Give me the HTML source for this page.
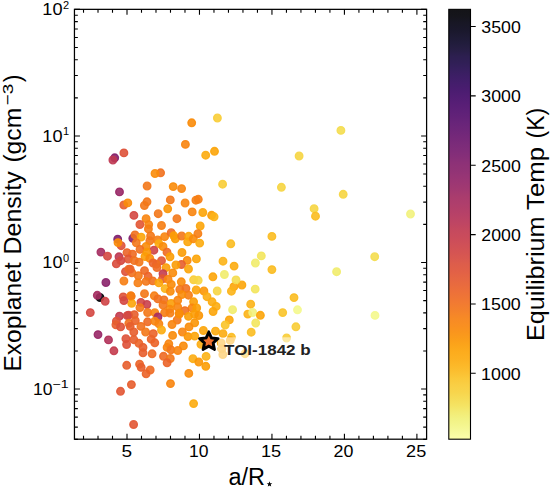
<!DOCTYPE html>
<html><head><meta charset="utf-8"><style>html,body{margin:0;padding:0;background:#fff;}body{width:550px;height:487px;overflow:hidden;position:relative;font-family:"Liberation Sans",sans-serif;}</style></head>
<body>
<svg width="550" height="487" viewBox="0 0 550 487" style="position:absolute;left:0;top:0">
<rect width="550" height="487" fill="#fff"/>
<defs><clipPath id="ax"><rect x="74.45" y="9.35" width="352.15000000000003" height="429.84999999999997"/></clipPath>
<linearGradient id="cb" x1="0" y1="0" x2="0" y2="1"><stop offset="0.0000" stop-color="#000004"/><stop offset="0.0156" stop-color="#010108"/><stop offset="0.0312" stop-color="#040312"/><stop offset="0.0469" stop-color="#060419"/><stop offset="0.0625" stop-color="#0a0722"/><stop offset="0.0781" stop-color="#0e092b"/><stop offset="0.0938" stop-color="#140b34"/><stop offset="0.1094" stop-color="#1b0c41"/><stop offset="0.1250" stop-color="#1f0c48"/><stop offset="0.1406" stop-color="#260c51"/><stop offset="0.1562" stop-color="#2d0b59"/><stop offset="0.1719" stop-color="#340a5f"/><stop offset="0.1875" stop-color="#3b0964"/><stop offset="0.2031" stop-color="#420a68"/><stop offset="0.2188" stop-color="#490b6a"/><stop offset="0.2344" stop-color="#4f0d6c"/><stop offset="0.2500" stop-color="#550f6d"/><stop offset="0.2656" stop-color="#5c126e"/><stop offset="0.2812" stop-color="#62146e"/><stop offset="0.2969" stop-color="#69166e"/><stop offset="0.3125" stop-color="#6f196e"/><stop offset="0.3281" stop-color="#751b6e"/><stop offset="0.3438" stop-color="#7c1d6d"/><stop offset="0.3594" stop-color="#84206b"/><stop offset="0.3750" stop-color="#88226a"/><stop offset="0.3906" stop-color="#8f2469"/><stop offset="0.4062" stop-color="#952667"/><stop offset="0.4219" stop-color="#9b2964"/><stop offset="0.4375" stop-color="#a32c61"/><stop offset="0.4531" stop-color="#a82e5f"/><stop offset="0.4688" stop-color="#ae305c"/><stop offset="0.4844" stop-color="#b43359"/><stop offset="0.5000" stop-color="#ba3655"/><stop offset="0.5156" stop-color="#c13a50"/><stop offset="0.5312" stop-color="#c63d4d"/><stop offset="0.5469" stop-color="#cb4149"/><stop offset="0.5625" stop-color="#d04545"/><stop offset="0.5781" stop-color="#d54a41"/><stop offset="0.5938" stop-color="#db503b"/><stop offset="0.6094" stop-color="#df5337"/><stop offset="0.6250" stop-color="#e35933"/><stop offset="0.6406" stop-color="#e75e2e"/><stop offset="0.6562" stop-color="#eb6429"/><stop offset="0.6719" stop-color="#ee6a24"/><stop offset="0.6875" stop-color="#f1711f"/><stop offset="0.7031" stop-color="#f37819"/><stop offset="0.7188" stop-color="#f68013"/><stop offset="0.7344" stop-color="#f8850f"/><stop offset="0.7500" stop-color="#f98c0a"/><stop offset="0.7656" stop-color="#fa9407"/><stop offset="0.7812" stop-color="#fb9d07"/><stop offset="0.7969" stop-color="#fca50a"/><stop offset="0.8125" stop-color="#fcaa0f"/><stop offset="0.8281" stop-color="#fcb216"/><stop offset="0.8438" stop-color="#fbba1f"/><stop offset="0.8594" stop-color="#fac42a"/><stop offset="0.8750" stop-color="#f9cb35"/><stop offset="0.8906" stop-color="#f7d13d"/><stop offset="0.9062" stop-color="#f5d949"/><stop offset="0.9219" stop-color="#f4e156"/><stop offset="0.9375" stop-color="#f2ea69"/><stop offset="0.9531" stop-color="#f1f179"/><stop offset="0.9688" stop-color="#f3f586"/><stop offset="0.9844" stop-color="#f6fa96"/><stop offset="1.0000" stop-color="#fcffa4"/></linearGradient>
<clipPath id="lbl"><rect x="218" y="337.3" width="96" height="22"/></clipPath>
</defs>
<g clip-path="url(#ax)" fill-opacity="0.9" stroke-opacity="0.9" stroke-width="1.3"><circle cx="191.7" cy="122.8" r="3.8" fill="#f98c0a" stroke="#f98c0a"/><circle cx="217.4" cy="118.0" r="3.8" fill="#f8cd37" stroke="#f8cd37"/><circle cx="185.4" cy="144.4" r="3.8" fill="#f8850f" stroke="#f8850f"/><circle cx="205.7" cy="155.2" r="3.8" fill="#fcac11" stroke="#fcac11"/><circle cx="214.5" cy="151.3" r="3.8" fill="#fca50a" stroke="#fca50a"/><circle cx="340.9" cy="130.4" r="3.8" fill="#f4dd4f" stroke="#f4dd4f"/><circle cx="299.1" cy="156.0" r="3.8" fill="#f6d543" stroke="#f6d543"/><circle cx="123.9" cy="152.9" r="3.8" fill="#de5238" stroke="#de5238"/><circle cx="114.7" cy="157.8" r="3.8" fill="#84206b" stroke="#84206b"/><circle cx="112.9" cy="160.0" r="3.8" fill="#bf3952" stroke="#bf3952"/><circle cx="160.6" cy="172.8" r="3.8" fill="#f1711f" stroke="#f1711f"/><circle cx="155.0" cy="173.5" r="3.8" fill="#f98c0a" stroke="#f98c0a"/><circle cx="147.1" cy="186.0" r="3.8" fill="#f37819" stroke="#f37819"/><circle cx="173.2" cy="186.6" r="3.8" fill="#f98c0a" stroke="#f98c0a"/><circle cx="181.6" cy="188.6" r="3.8" fill="#f8850f" stroke="#f8850f"/><circle cx="222.6" cy="184.2" r="3.8" fill="#f8cd37" stroke="#f8cd37"/><circle cx="281.4" cy="187.3" r="3.8" fill="#f6d543" stroke="#f6d543"/><circle cx="343.2" cy="194.3" r="3.8" fill="#f6d543" stroke="#f6d543"/><circle cx="314.1" cy="208.7" r="3.8" fill="#f6d543" stroke="#f6d543"/><circle cx="315.5" cy="216.2" r="3.8" fill="#fbbc21" stroke="#fbbc21"/><circle cx="410.5" cy="214.0" r="3.8" fill="#f2f27d" stroke="#f2f27d"/><circle cx="119.5" cy="191.9" r="3.8" fill="#982766" stroke="#982766"/><circle cx="123.8" cy="205.0" r="3.8" fill="#e75e2e" stroke="#e75e2e"/><circle cx="127.8" cy="202.9" r="3.8" fill="#f98c0a" stroke="#f98c0a"/><circle cx="133.9" cy="215.4" r="3.8" fill="#d44842" stroke="#d44842"/><circle cx="147.0" cy="201.8" r="3.8" fill="#f37819" stroke="#f37819"/><circle cx="144.4" cy="205.5" r="3.8" fill="#f37819" stroke="#f37819"/><circle cx="170.3" cy="199.9" r="3.8" fill="#f37819" stroke="#f37819"/><circle cx="185.1" cy="203.0" r="3.8" fill="#f8850f" stroke="#f8850f"/><circle cx="167.7" cy="208.8" r="3.8" fill="#fb9606" stroke="#fb9606"/><circle cx="195.9" cy="200.2" r="3.8" fill="#f67e14" stroke="#f67e14"/><circle cx="198.3" cy="199.3" r="3.8" fill="#f67e14" stroke="#f67e14"/><circle cx="192.2" cy="211.9" r="3.8" fill="#f8850f" stroke="#f8850f"/><circle cx="202.8" cy="212.5" r="3.8" fill="#fca50a" stroke="#fca50a"/><circle cx="211.6" cy="215.3" r="3.8" fill="#fb9d07" stroke="#fb9d07"/><circle cx="214.1" cy="216.8" r="3.8" fill="#fcb418" stroke="#fcb418"/><circle cx="158.2" cy="213.7" r="3.8" fill="#f37819" stroke="#f37819"/><circle cx="146.1" cy="218.7" r="3.8" fill="#f8850f" stroke="#f8850f"/><circle cx="176.9" cy="218.7" r="3.8" fill="#f37819" stroke="#f37819"/><circle cx="139.9" cy="224.5" r="3.8" fill="#e25734" stroke="#e25734"/><circle cx="148.7" cy="224.6" r="3.8" fill="#f8850f" stroke="#f8850f"/><circle cx="148.4" cy="228.9" r="3.8" fill="#f67e14" stroke="#f67e14"/><circle cx="161.5" cy="225.5" r="3.8" fill="#f67e14" stroke="#f67e14"/><circle cx="200.2" cy="226.0" r="3.8" fill="#fca50a" stroke="#fca50a"/><circle cx="117.7" cy="239.2" r="3.8" fill="#7d1e6d" stroke="#7d1e6d"/><circle cx="121.2" cy="245.7" r="3.8" fill="#de5238" stroke="#de5238"/><circle cx="118.0" cy="242.6" r="3.8" fill="#f98c0a" stroke="#f98c0a"/><circle cx="132.8" cy="238.3" r="3.8" fill="#84206b" stroke="#84206b"/><circle cx="135.0" cy="234.9" r="3.8" fill="#f1711f" stroke="#f1711f"/><circle cx="141.2" cy="237.1" r="3.8" fill="#fca50a" stroke="#fca50a"/><circle cx="136.3" cy="242.8" r="3.8" fill="#f37819" stroke="#f37819"/><circle cx="150.6" cy="235.9" r="3.8" fill="#f37819" stroke="#f37819"/><circle cx="149.8" cy="240.8" r="3.8" fill="#f37819" stroke="#f37819"/><circle cx="157.6" cy="240.0" r="3.8" fill="#f67e14" stroke="#f67e14"/><circle cx="158.9" cy="243.7" r="3.8" fill="#fcac11" stroke="#fcac11"/><circle cx="164.6" cy="236.7" r="3.8" fill="#f8850f" stroke="#f8850f"/><circle cx="163.0" cy="246.5" r="3.8" fill="#f98c0a" stroke="#f98c0a"/><circle cx="146.1" cy="246.5" r="3.8" fill="#f98c0a" stroke="#f98c0a"/><circle cx="140.0" cy="249.4" r="3.8" fill="#f1711f" stroke="#f1711f"/><circle cx="153.9" cy="250.2" r="3.8" fill="#cf4446" stroke="#cf4446"/><circle cx="146.9" cy="252.3" r="3.8" fill="#fb9606" stroke="#fb9606"/><circle cx="127.0" cy="252.6" r="3.8" fill="#eb6429" stroke="#eb6429"/><circle cx="132.5" cy="254.1" r="3.8" fill="#ee6a24" stroke="#ee6a24"/><circle cx="128.3" cy="259.0" r="3.8" fill="#e25734" stroke="#e25734"/><circle cx="145.0" cy="256.6" r="3.8" fill="#fb9d07" stroke="#fb9d07"/><circle cx="149.8" cy="258.4" r="3.8" fill="#f98c0a" stroke="#f98c0a"/><circle cx="139.1" cy="262.1" r="3.8" fill="#f37819" stroke="#f37819"/><circle cx="134.2" cy="260.5" r="3.8" fill="#f1711f" stroke="#f1711f"/><circle cx="161.5" cy="260.7" r="3.8" fill="#e25734" stroke="#e25734"/><circle cx="156.4" cy="264.2" r="3.8" fill="#f1711f" stroke="#f1711f"/><circle cx="153.1" cy="263.0" r="3.8" fill="#eb6429" stroke="#eb6429"/><circle cx="167.0" cy="252.2" r="3.8" fill="#ee6a24" stroke="#ee6a24"/><circle cx="100.9" cy="252.1" r="3.8" fill="#a52c60" stroke="#a52c60"/><circle cx="107.5" cy="256.2" r="3.8" fill="#d44842" stroke="#d44842"/><circle cx="119.0" cy="256.8" r="3.8" fill="#bf3952" stroke="#bf3952"/><circle cx="120.8" cy="260.7" r="3.8" fill="#d44842" stroke="#d44842"/><circle cx="116.3" cy="263.8" r="3.8" fill="#d94d3d" stroke="#d94d3d"/><circle cx="125.5" cy="271.6" r="3.8" fill="#de5238" stroke="#de5238"/><circle cx="128.8" cy="269.1" r="3.8" fill="#ee6a24" stroke="#ee6a24"/><circle cx="131.9" cy="272.8" r="3.8" fill="#f1711f" stroke="#f1711f"/><circle cx="105.9" cy="282.5" r="3.8" fill="#8a226a" stroke="#8a226a"/><circle cx="123.9" cy="281.0" r="3.8" fill="#f67e14" stroke="#f67e14"/><circle cx="171.2" cy="232.7" r="3.8" fill="#ee6a24" stroke="#ee6a24"/><circle cx="173.8" cy="235.8" r="3.8" fill="#fb9d07" stroke="#fb9d07"/><circle cx="175.3" cy="238.8" r="3.8" fill="#fb9d07" stroke="#fb9d07"/><circle cx="181.7" cy="236.0" r="3.8" fill="#f37819" stroke="#f37819"/><circle cx="188.7" cy="236.3" r="3.8" fill="#fca50a" stroke="#fca50a"/><circle cx="187.7" cy="241.9" r="3.8" fill="#fca50a" stroke="#fca50a"/><circle cx="193.3" cy="238.8" r="3.8" fill="#f98c0a" stroke="#f98c0a"/><circle cx="197.9" cy="233.7" r="3.8" fill="#f67e14" stroke="#f67e14"/><circle cx="199.7" cy="243.1" r="3.8" fill="#fcac11" stroke="#fcac11"/><circle cx="182.0" cy="252.5" r="3.8" fill="#fb9d07" stroke="#fb9d07"/><circle cx="170.0" cy="256.8" r="3.8" fill="#fb9d07" stroke="#fb9d07"/><circle cx="187.2" cy="260.4" r="3.8" fill="#f98c0a" stroke="#f98c0a"/><circle cx="196.4" cy="258.9" r="3.8" fill="#fca50a" stroke="#fca50a"/><circle cx="181.5" cy="264.5" r="3.8" fill="#e75e2e" stroke="#e75e2e"/><circle cx="175.9" cy="265.0" r="3.8" fill="#fb9d07" stroke="#fb9d07"/><circle cx="166.1" cy="267.6" r="3.8" fill="#fb9d07" stroke="#fb9d07"/><circle cx="188.5" cy="269.0" r="3.8" fill="#fca50a" stroke="#fca50a"/><circle cx="172.8" cy="272.9" r="3.8" fill="#f98c0a" stroke="#f98c0a"/><circle cx="163.0" cy="273.7" r="3.8" fill="#c43c4e" stroke="#c43c4e"/><circle cx="230.8" cy="243.8" r="3.8" fill="#fbbc21" stroke="#fbbc21"/><circle cx="223.0" cy="261.2" r="3.8" fill="#fcb418" stroke="#fcb418"/><circle cx="234.1" cy="266.1" r="3.8" fill="#fcac11" stroke="#fcac11"/><circle cx="212.9" cy="276.8" r="3.8" fill="#fca50a" stroke="#fca50a"/><circle cx="224.4" cy="274.5" r="3.8" fill="#f1ec6d" stroke="#f1ec6d"/><circle cx="261.3" cy="255.9" r="3.8" fill="#f3e55d" stroke="#f3e55d"/><circle cx="255.4" cy="263.0" r="3.8" fill="#f1ec6d" stroke="#f1ec6d"/><circle cx="271.9" cy="236.4" r="3.8" fill="#fbbc21" stroke="#fbbc21"/><circle cx="271.9" cy="269.6" r="3.8" fill="#fbbc21" stroke="#fbbc21"/><circle cx="374.7" cy="256.7" r="3.8" fill="#f4dd4f" stroke="#f4dd4f"/><circle cx="336.6" cy="271.7" r="3.8" fill="#f1ec6d" stroke="#f1ec6d"/><circle cx="130.2" cy="269.1" r="3.8" fill="#eb6429" stroke="#eb6429"/><circle cx="138.4" cy="275.8" r="3.8" fill="#f37819" stroke="#f37819"/><circle cx="144.5" cy="270.6" r="3.8" fill="#ee6a24" stroke="#ee6a24"/><circle cx="148.1" cy="276.3" r="3.8" fill="#eb6429" stroke="#eb6429"/><circle cx="146.1" cy="281.4" r="3.8" fill="#f37819" stroke="#f37819"/><circle cx="152.7" cy="280.9" r="3.8" fill="#f1711f" stroke="#f1711f"/><circle cx="137.9" cy="282.9" r="3.8" fill="#f67e14" stroke="#f67e14"/><circle cx="156.9" cy="267.5" r="3.8" fill="#ee6a24" stroke="#ee6a24"/><circle cx="162.5" cy="278.8" r="3.8" fill="#e25734" stroke="#e25734"/><circle cx="168.1" cy="279.3" r="3.8" fill="#f8850f" stroke="#f8850f"/><circle cx="158.9" cy="282.9" r="3.8" fill="#fca50a" stroke="#fca50a"/><circle cx="165.1" cy="288.6" r="3.8" fill="#fcb418" stroke="#fcb418"/><circle cx="171.3" cy="284.4" r="3.8" fill="#f98c0a" stroke="#f98c0a"/><circle cx="170.3" cy="291.3" r="3.8" fill="#f98c0a" stroke="#f98c0a"/><circle cx="144.5" cy="293.7" r="3.8" fill="#f37819" stroke="#f37819"/><circle cx="131.2" cy="296.3" r="3.8" fill="#f37819" stroke="#f37819"/><circle cx="123.2" cy="296.9" r="3.8" fill="#de5238" stroke="#de5238"/><circle cx="131.7" cy="303.3" r="3.8" fill="#fca50a" stroke="#fca50a"/><circle cx="123.9" cy="300.6" r="3.8" fill="#d44842" stroke="#d44842"/><circle cx="130.8" cy="295.7" r="3.8" fill="#f67e14" stroke="#f67e14"/><circle cx="140.9" cy="302.4" r="3.8" fill="#d44842" stroke="#d44842"/><circle cx="146.9" cy="304.5" r="3.8" fill="#ca404a" stroke="#ca404a"/><circle cx="139.9" cy="307.6" r="3.8" fill="#f37819" stroke="#f37819"/><circle cx="154.3" cy="295.8" r="3.8" fill="#f67e14" stroke="#f67e14"/><circle cx="157.9" cy="298.9" r="3.8" fill="#f1711f" stroke="#f1711f"/><circle cx="164.0" cy="299.9" r="3.8" fill="#f1711f" stroke="#f1711f"/><circle cx="171.2" cy="303.5" r="3.8" fill="#fb9d07" stroke="#fb9d07"/><circle cx="169.7" cy="309.1" r="3.8" fill="#f98c0a" stroke="#f98c0a"/><circle cx="163.0" cy="305.0" r="3.8" fill="#f37819" stroke="#f37819"/><circle cx="147.6" cy="312.5" r="3.8" fill="#f37819" stroke="#f37819"/><circle cx="154.8" cy="312.7" r="3.8" fill="#f8850f" stroke="#f8850f"/><circle cx="164.6" cy="312.7" r="3.8" fill="#f67e14" stroke="#f67e14"/><circle cx="157.9" cy="317.0" r="3.8" fill="#a52c60" stroke="#a52c60"/><circle cx="128.6" cy="315.2" r="3.8" fill="#d44842" stroke="#d44842"/><circle cx="134.3" cy="314.6" r="3.8" fill="#e75e2e" stroke="#e75e2e"/><circle cx="100.0" cy="297.5" r="3.8" fill="#010005" stroke="#010005"/><circle cx="97.3" cy="295.3" r="3.8" fill="#a52c60" stroke="#a52c60"/><circle cx="105.2" cy="301.3" r="3.8" fill="#cf4446" stroke="#cf4446"/><circle cx="90.3" cy="312.6" r="3.8" fill="#d44842" stroke="#d44842"/><circle cx="193.6" cy="279.8" r="3.8" fill="#f8cd37" stroke="#f8cd37"/><circle cx="198.2" cy="280.3" r="3.8" fill="#f6d543" stroke="#f6d543"/><circle cx="181.3" cy="281.8" r="3.8" fill="#f98c0a" stroke="#f98c0a"/><circle cx="179.8" cy="289.5" r="3.8" fill="#f37819" stroke="#f37819"/><circle cx="185.9" cy="288.5" r="3.8" fill="#f1711f" stroke="#f1711f"/><circle cx="188.5" cy="295.2" r="3.8" fill="#f67e14" stroke="#f67e14"/><circle cx="181.8" cy="294.6" r="3.8" fill="#f98c0a" stroke="#f98c0a"/><circle cx="196.2" cy="290.0" r="3.8" fill="#fca50a" stroke="#fca50a"/><circle cx="203.9" cy="291.0" r="3.8" fill="#fb9606" stroke="#fb9606"/><circle cx="217.2" cy="291.0" r="3.8" fill="#f6d543" stroke="#f6d543"/><circle cx="207.0" cy="296.7" r="3.8" fill="#fcac11" stroke="#fcac11"/><circle cx="212.1" cy="301.8" r="3.8" fill="#fcac11" stroke="#fcac11"/><circle cx="216.2" cy="306.4" r="3.8" fill="#fcac11" stroke="#fcac11"/><circle cx="213.1" cy="311.5" r="3.8" fill="#fca50a" stroke="#fca50a"/><circle cx="177.7" cy="300.3" r="3.8" fill="#f8850f" stroke="#f8850f"/><circle cx="193.6" cy="301.8" r="3.8" fill="#fb9d07" stroke="#fb9d07"/><circle cx="177.7" cy="307.0" r="3.8" fill="#f8850f" stroke="#f8850f"/><circle cx="192.1" cy="308.0" r="3.8" fill="#f8850f" stroke="#f8850f"/><circle cx="196.7" cy="308.0" r="3.8" fill="#fb9d07" stroke="#fb9d07"/><circle cx="184.9" cy="310.6" r="3.8" fill="#f1711f" stroke="#f1711f"/><circle cx="179.2" cy="313.3" r="3.8" fill="#f98c0a" stroke="#f98c0a"/><circle cx="170.0" cy="313.0" r="3.8" fill="#f67e14" stroke="#f67e14"/><circle cx="188.5" cy="316.4" r="3.8" fill="#fb9d07" stroke="#fb9d07"/><circle cx="194.5" cy="314.2" r="3.8" fill="#fb9d07" stroke="#fb9d07"/><circle cx="198.8" cy="315.5" r="3.8" fill="#fb9606" stroke="#fb9606"/><circle cx="177.2" cy="320.0" r="3.8" fill="#f37819" stroke="#f37819"/><circle cx="241.9" cy="285.0" r="3.8" fill="#fca50a" stroke="#fca50a"/><circle cx="233.9" cy="286.6" r="3.8" fill="#fca50a" stroke="#fca50a"/><circle cx="236.0" cy="279.9" r="3.8" fill="#f4dd4f" stroke="#f4dd4f"/><circle cx="231.4" cy="291.2" r="3.8" fill="#fcb418" stroke="#fcb418"/><circle cx="255.2" cy="289.1" r="3.8" fill="#f3e55d" stroke="#f3e55d"/><circle cx="250.7" cy="304.2" r="3.8" fill="#fcb418" stroke="#fcb418"/><circle cx="232.6" cy="309.7" r="3.8" fill="#f1ec6d" stroke="#f1ec6d"/><circle cx="247.8" cy="314.1" r="3.8" fill="#fcb418" stroke="#fcb418"/><circle cx="252.7" cy="312.5" r="3.8" fill="#f2f27d" stroke="#f2f27d"/><circle cx="260.4" cy="315.3" r="3.8" fill="#fca50a" stroke="#fca50a"/><circle cx="229.3" cy="319.9" r="3.8" fill="#fca50a" stroke="#fca50a"/><circle cx="225.2" cy="325.0" r="3.8" fill="#fac42a" stroke="#fac42a"/><circle cx="255.7" cy="323.0" r="3.8" fill="#f3e55d" stroke="#f3e55d"/><circle cx="294.0" cy="297.6" r="3.8" fill="#fbbc21" stroke="#fbbc21"/><circle cx="297.5" cy="309.8" r="3.8" fill="#f4f88e" stroke="#f4f88e"/><circle cx="282.7" cy="312.6" r="3.8" fill="#fac42a" stroke="#fac42a"/><circle cx="295.9" cy="326.8" r="3.8" fill="#f8cd37" stroke="#f8cd37"/><circle cx="286.6" cy="338.0" r="3.8" fill="#f8cd37" stroke="#f8cd37"/><circle cx="375.0" cy="315.4" r="3.8" fill="#f4f88e" stroke="#f4f88e"/><circle cx="119.5" cy="316.1" r="3.8" fill="#c43c4e" stroke="#c43c4e"/><circle cx="127.2" cy="315.6" r="3.8" fill="#d44842" stroke="#d44842"/><circle cx="116.4" cy="321.2" r="3.8" fill="#de5238" stroke="#de5238"/><circle cx="115.9" cy="324.8" r="3.8" fill="#e75e2e" stroke="#e75e2e"/><circle cx="120.6" cy="326.9" r="3.8" fill="#de5238" stroke="#de5238"/><circle cx="128.8" cy="323.3" r="3.8" fill="#f1711f" stroke="#f1711f"/><circle cx="98.0" cy="334.6" r="3.8" fill="#982766" stroke="#982766"/><circle cx="108.5" cy="339.9" r="3.8" fill="#b1325a" stroke="#b1325a"/><circle cx="113.9" cy="350.8" r="3.8" fill="#c43c4e" stroke="#c43c4e"/><circle cx="125.9" cy="338.7" r="3.8" fill="#de5238" stroke="#de5238"/><circle cx="126.6" cy="344.5" r="3.8" fill="#de5238" stroke="#de5238"/><circle cx="135.3" cy="320.7" r="3.8" fill="#eb6429" stroke="#eb6429"/><circle cx="147.6" cy="321.8" r="3.8" fill="#ee6a24" stroke="#ee6a24"/><circle cx="154.8" cy="321.2" r="3.8" fill="#f8850f" stroke="#f8850f"/><circle cx="158.9" cy="323.8" r="3.8" fill="#f8850f" stroke="#f8850f"/><circle cx="161.5" cy="330.0" r="3.8" fill="#fcac11" stroke="#fcac11"/><circle cx="172.0" cy="324.5" r="3.8" fill="#f8850f" stroke="#f8850f"/><circle cx="140.9" cy="326.4" r="3.8" fill="#f1711f" stroke="#f1711f"/><circle cx="130.2" cy="326.4" r="3.8" fill="#e75e2e" stroke="#e75e2e"/><circle cx="145.6" cy="332.0" r="3.8" fill="#f37819" stroke="#f37819"/><circle cx="133.8" cy="332.0" r="3.8" fill="#e75e2e" stroke="#e75e2e"/><circle cx="153.3" cy="333.6" r="3.8" fill="#eb6429" stroke="#eb6429"/><circle cx="172.6" cy="335.4" r="3.8" fill="#f98c0a" stroke="#f98c0a"/><circle cx="133.8" cy="339.7" r="3.8" fill="#e75e2e" stroke="#e75e2e"/><circle cx="151.2" cy="339.2" r="3.8" fill="#eb6429" stroke="#eb6429"/><circle cx="154.8" cy="342.8" r="3.8" fill="#eb6429" stroke="#eb6429"/><circle cx="138.9" cy="343.3" r="3.8" fill="#eb6429" stroke="#eb6429"/><circle cx="143.0" cy="347.4" r="3.8" fill="#e75e2e" stroke="#e75e2e"/><circle cx="168.8" cy="343.8" r="3.8" fill="#f8850f" stroke="#f8850f"/><circle cx="167.1" cy="347.4" r="3.8" fill="#f8850f" stroke="#f8850f"/><circle cx="170.9" cy="349.8" r="3.8" fill="#f37819" stroke="#f37819"/><circle cx="143.0" cy="352.8" r="3.8" fill="#e75e2e" stroke="#e75e2e"/><circle cx="152.1" cy="353.8" r="3.8" fill="#ee6a24" stroke="#ee6a24"/><circle cx="163.5" cy="356.3" r="3.8" fill="#ee6a24" stroke="#ee6a24"/><circle cx="170.3" cy="358.5" r="3.8" fill="#f37819" stroke="#f37819"/><circle cx="179.3" cy="314.1" r="3.8" fill="#f98c0a" stroke="#f98c0a"/><circle cx="194.7" cy="322.8" r="3.8" fill="#fb9606" stroke="#fb9606"/><circle cx="189.0" cy="326.9" r="3.8" fill="#f98c0a" stroke="#f98c0a"/><circle cx="203.4" cy="330.5" r="3.8" fill="#fca50a" stroke="#fca50a"/><circle cx="215.5" cy="331.1" r="3.8" fill="#fcac11" stroke="#fcac11"/><circle cx="182.4" cy="332.0" r="3.8" fill="#f8850f" stroke="#f8850f"/><circle cx="188.0" cy="336.6" r="3.8" fill="#fb9606" stroke="#fb9606"/><circle cx="194.7" cy="336.1" r="3.8" fill="#fca50a" stroke="#fca50a"/><circle cx="200.9" cy="344.3" r="3.8" fill="#fcac11" stroke="#fcac11"/><circle cx="183.4" cy="345.9" r="3.8" fill="#f98c0a" stroke="#f98c0a"/><circle cx="177.8" cy="350.5" r="3.8" fill="#f8850f" stroke="#f8850f"/><circle cx="192.9" cy="358.7" r="3.8" fill="#fcac11" stroke="#fcac11"/><circle cx="206.1" cy="356.4" r="3.8" fill="#fcb418" stroke="#fcb418"/><circle cx="198.8" cy="362.0" r="3.8" fill="#fb9606" stroke="#fb9606"/><circle cx="223.0" cy="333.7" r="3.8" fill="#fcac11" stroke="#fcac11"/><circle cx="231.5" cy="337.3" r="3.8" fill="#fbbc21" stroke="#fbbc21"/><circle cx="251.2" cy="332.2" r="3.8" fill="#fbbc21" stroke="#fbbc21"/><circle cx="221.2" cy="343.0" r="3.8" fill="#fcac11" stroke="#fcac11"/><circle cx="221.8" cy="348.8" r="3.8" fill="#fcac11" stroke="#fcac11"/><circle cx="222.8" cy="354.5" r="3.8" fill="#fcac11" stroke="#fcac11"/><circle cx="230.2" cy="340.4" r="3.8" fill="#fcac11" stroke="#fcac11"/><circle cx="245.0" cy="353.7" r="3.8" fill="#fbbc21" stroke="#fbbc21"/><circle cx="205.8" cy="366.3" r="3.8" fill="#fb9d07" stroke="#fb9d07"/><circle cx="126.7" cy="365.3" r="3.8" fill="#e75e2e" stroke="#e75e2e"/><circle cx="139.6" cy="364.2" r="3.8" fill="#eb6429" stroke="#eb6429"/><circle cx="141.2" cy="367.4" r="3.8" fill="#e75e2e" stroke="#e75e2e"/><circle cx="150.2" cy="370.0" r="3.8" fill="#ee6a24" stroke="#ee6a24"/><circle cx="146.1" cy="373.8" r="3.8" fill="#eb6429" stroke="#eb6429"/><circle cx="167.1" cy="362.8" r="3.8" fill="#eb6429" stroke="#eb6429"/><circle cx="170.5" cy="383.6" r="3.8" fill="#f8850f" stroke="#f8850f"/><circle cx="131.4" cy="384.6" r="3.8" fill="#e75e2e" stroke="#e75e2e"/><circle cx="120.5" cy="391.3" r="3.8" fill="#e25734" stroke="#e25734"/><circle cx="188.8" cy="373.4" r="3.8" fill="#f98c0a" stroke="#f98c0a"/><circle cx="193.6" cy="403.6" r="3.8" fill="#fcac11" stroke="#fcac11"/><circle cx="133.6" cy="424.5" r="3.8" fill="#e25734" stroke="#e25734"/></g>
<rect x="218" y="337.3" width="96" height="22" fill="#fff" fill-opacity="0.5"/>
<polygon points="208.80,331.70 211.59,337.76 218.22,338.54 213.32,343.07 214.62,349.61 208.80,346.35 202.98,349.61 204.28,343.07 199.38,338.54 206.01,337.76" fill="#000" stroke="#000" stroke-width="2.6" stroke-linejoin="round"/>
<polygon points="208.80,335.80 210.56,339.17 214.32,339.81 211.65,342.53 212.21,346.29 208.80,344.60 205.39,346.29 205.95,342.53 203.28,339.81 207.04,339.17" fill="#ef702d"/>
<text x="224.08" y="354.50" font-family="Liberation Sans" font-size="14" textLength="86.57" lengthAdjust="spacingAndGlyphs" font-weight="bold" fill="#222">TOI-1842 b</text>
<path d="M83.52,439.2v-3.4M83.52,9.35v3.4M98.01,439.2v-3.4M98.01,9.35v3.4M112.50,439.2v-3.4M112.50,9.35v3.4M127.00,439.2v-5.5M127.00,9.35v5.5M141.50,439.2v-3.4M141.50,9.35v3.4M155.99,439.2v-3.4M155.99,9.35v3.4M170.49,439.2v-3.4M170.49,9.35v3.4M184.98,439.2v-3.4M184.98,9.35v3.4M199.47,439.2v-5.5M199.47,9.35v5.5M213.97,439.2v-3.4M213.97,9.35v3.4M228.46,439.2v-3.4M228.46,9.35v3.4M242.96,439.2v-3.4M242.96,9.35v3.4M257.45,439.2v-3.4M257.45,9.35v3.4M271.95,439.2v-5.5M271.95,9.35v5.5M286.44,439.2v-3.4M286.44,9.35v3.4M300.94,439.2v-3.4M300.94,9.35v3.4M315.44,439.2v-3.4M315.44,9.35v3.4M329.93,439.2v-3.4M329.93,9.35v3.4M344.42,439.2v-5.5M344.42,9.35v5.5M358.92,439.2v-3.4M358.92,9.35v3.4M373.41,439.2v-3.4M373.41,9.35v3.4M387.91,439.2v-3.4M387.91,9.35v3.4M402.40,439.2v-3.4M402.40,9.35v3.4M416.90,439.2v-5.5M416.90,9.35v5.5M74.45,439.41h3.4M426.6,439.41h-3.4M74.45,427.15h3.4M426.6,427.15h-3.4M74.45,417.12h3.4M426.6,417.12h-3.4M74.45,408.65h3.4M426.6,408.65h-3.4M74.45,401.31h3.4M426.6,401.31h-3.4M74.45,394.84h3.4M426.6,394.84h-3.4M74.45,389.05h5.5M426.6,389.05h-5.5M74.45,350.95h3.4M426.6,350.95h-3.4M74.45,328.67h3.4M426.6,328.67h-3.4M74.45,312.86h3.4M426.6,312.86h-3.4M74.45,300.60h3.4M426.6,300.60h-3.4M74.45,290.57h3.4M426.6,290.57h-3.4M74.45,282.10h3.4M426.6,282.10h-3.4M74.45,274.76h3.4M426.6,274.76h-3.4M74.45,268.29h3.4M426.6,268.29h-3.4M74.45,262.50h5.5M426.6,262.50h-5.5M74.45,224.40h3.4M426.6,224.40h-3.4M74.45,202.12h3.4M426.6,202.12h-3.4M74.45,186.31h3.4M426.6,186.31h-3.4M74.45,174.05h3.4M426.6,174.05h-3.4M74.45,164.02h3.4M426.6,164.02h-3.4M74.45,155.55h3.4M426.6,155.55h-3.4M74.45,148.21h3.4M426.6,148.21h-3.4M74.45,141.74h3.4M426.6,141.74h-3.4M74.45,135.95h5.5M426.6,135.95h-5.5M74.45,97.85h3.4M426.6,97.85h-3.4M74.45,75.57h3.4M426.6,75.57h-3.4M74.45,59.76h3.4M426.6,59.76h-3.4M74.45,47.50h3.4M426.6,47.50h-3.4M74.45,37.47h3.4M426.6,37.47h-3.4M74.45,29.00h3.4M426.6,29.00h-3.4M74.45,21.66h3.4M426.6,21.66h-3.4M74.45,15.19h3.4M426.6,15.19h-3.4M74.45,9.40h5.5M426.6,9.40h-5.5" stroke="#000" stroke-width="1.1" fill="none"/>
<rect x="74.45" y="9.35" width="352.15" height="429.85" fill="none" stroke="#000" stroke-width="1.25"/>
<text x="121.60" y="457.00" font-family="Liberation Sans" font-size="15.6" textLength="10.62" lengthAdjust="spacingAndGlyphs">5</text>
<text x="188.98" y="457.00" font-family="Liberation Sans" font-size="15.6" textLength="19.50" lengthAdjust="spacingAndGlyphs">10</text>
<text x="260.93" y="457.00" font-family="Liberation Sans" font-size="15.6" textLength="20.28" lengthAdjust="spacingAndGlyphs">15</text>
<text x="333.56" y="457.00" font-family="Liberation Sans" font-size="15.6" textLength="19.83" lengthAdjust="spacingAndGlyphs">20</text>
<text x="406.14" y="457.00" font-family="Liberation Sans" font-size="15.6" textLength="20.17" lengthAdjust="spacingAndGlyphs">25</text>
<text x="42.34" y="15.10" font-family="Liberation Sans" font-size="15.6" textLength="20.17" lengthAdjust="spacingAndGlyphs">10</text>
<text x="63.0" y="8.5" font-family="Liberation Sans" font-size="11">2</text>
<text x="42.34" y="141.70" font-family="Liberation Sans" font-size="15.6" textLength="20.17" lengthAdjust="spacingAndGlyphs">10</text>
<text x="63.0" y="135.1" font-family="Liberation Sans" font-size="11">1</text>
<text x="42.34" y="268.30" font-family="Liberation Sans" font-size="15.6" textLength="20.17" lengthAdjust="spacingAndGlyphs">10</text>
<text x="63.0" y="261.7" font-family="Liberation Sans" font-size="11">0</text>
<text x="32.98" y="394.70" font-family="Liberation Sans" font-size="15.6" textLength="19.50" lengthAdjust="spacingAndGlyphs">10</text>
<text x="52.42" y="388.10" font-family="Liberation Sans" font-size="11" textLength="16.07" lengthAdjust="spacingAndGlyphs">−1</text>
<rect x="448.8" y="9.35" width="21.69999999999999" height="429.84999999999997" fill="url(#cb)" fill-opacity="0.92"/>
<rect x="448.8" y="9.35" width="21.69999999999999" height="429.84999999999997" fill="none" stroke="#000" stroke-width="1.1"/>
<text x="481.11" y="379.81" font-family="Liberation Sans" font-size="15.6" textLength="39.68" lengthAdjust="spacingAndGlyphs">1000</text>
<text x="481.11" y="310.44" font-family="Liberation Sans" font-size="15.6" textLength="39.68" lengthAdjust="spacingAndGlyphs">1500</text>
<text x="481.31" y="241.08" font-family="Liberation Sans" font-size="15.6" textLength="39.48" lengthAdjust="spacingAndGlyphs">2000</text>
<text x="481.31" y="171.72" font-family="Liberation Sans" font-size="15.6" textLength="39.48" lengthAdjust="spacingAndGlyphs">2500</text>
<text x="481.31" y="102.36" font-family="Liberation Sans" font-size="15.6" textLength="39.48" lengthAdjust="spacingAndGlyphs">3000</text>
<text x="481.31" y="33.00" font-family="Liberation Sans" font-size="15.6" textLength="39.48" lengthAdjust="spacingAndGlyphs">3500</text>
<path d="M470.5,373.31h5.2M470.5,303.94h5.2M470.5,234.58h5.2M470.5,165.22h5.2M470.5,95.86h5.2M470.5,26.50h5.2" stroke="#000" stroke-width="1.1"/>
<text x="228.50" y="485.00" font-family="Liberation Sans" font-size="23.0" textLength="36.49" lengthAdjust="spacingAndGlyphs">a/R</text>
<polygon points="269.50,481.30 270.23,483.19 272.26,483.30 270.69,484.59 271.20,486.55 269.50,485.45 267.80,486.55 268.31,484.59 266.74,483.30 268.77,483.19" fill="#000"/>
<g transform="translate(21,371.2) rotate(-90)"><text x="-0.41" y="0.00" font-family="Liberation Sans" font-size="23.3" textLength="109.29" lengthAdjust="spacingAndGlyphs">Exoplanet</text><text x="116.82" y="0.00" font-family="Liberation Sans" font-size="23.3" textLength="83.08" lengthAdjust="spacingAndGlyphs">Density</text><text x="208.59" y="0.00" font-family="Liberation Sans" font-size="23.3" textLength="54.85" lengthAdjust="spacingAndGlyphs">(gcm</text><text x="265.99" y="-8.30" font-family="Liberation Sans" font-size="15.4" textLength="21.47" lengthAdjust="spacingAndGlyphs">−3</text><text x="288.85" y="0.00" font-family="Liberation Sans" font-size="23.3">)</text></g>
<g transform="translate(544.4,344.8) rotate(-90)"><text x="3.82" y="0.00" font-family="Liberation Sans" font-size="23.3" textLength="124.54" lengthAdjust="spacingAndGlyphs">Equilibrium</text><text x="134.87" y="0.00" font-family="Liberation Sans" font-size="23.3" textLength="63.03" lengthAdjust="spacingAndGlyphs">Temp</text><text x="206.34" y="0.00" font-family="Liberation Sans" font-size="23.3" textLength="30.72" lengthAdjust="spacingAndGlyphs">(K)</text></g>
</svg>
</body></html>
